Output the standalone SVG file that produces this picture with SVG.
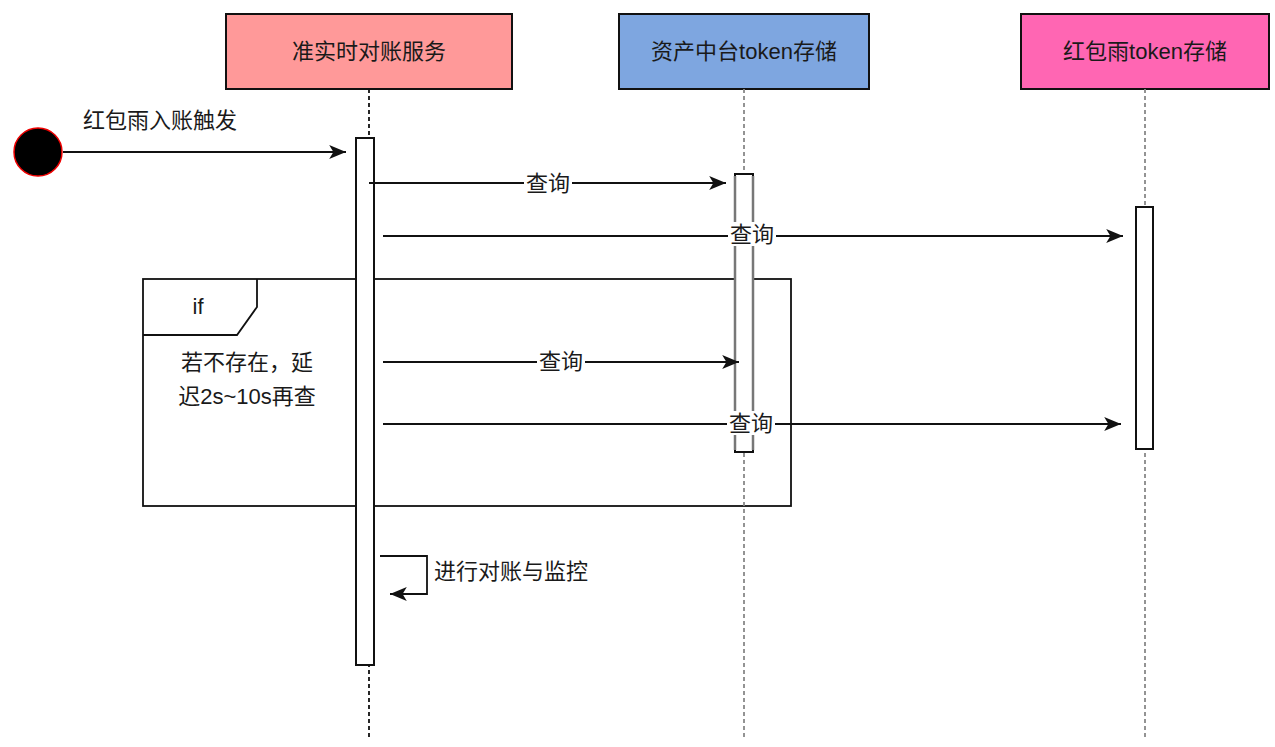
<svg xmlns="http://www.w3.org/2000/svg" width="1275" height="747" viewBox="0 0 1275 747">
<defs>
<style>
text{font-family:"Liberation Sans","Noto Sans CJK SC",sans-serif;font-size:22px;fill:#1a1a1a;}
.hdr{stroke:#111;stroke-width:2;}
.life{fill:none;stroke-width:1.8;stroke-dasharray:4 3;}
.act{fill:#fff;stroke:#111;stroke-width:2;}
.msg{fill:none;stroke:#111;stroke-width:1.8;}
.lbl{fill:#fff;}
</style>
<marker id="arr" viewBox="0 0 12 10" refX="12" refY="5" markerWidth="17" markerHeight="14" markerUnits="userSpaceOnUse" orient="auto">
<path d="M0,0 L12,5 L0,10 L3,5 z" fill="#111"/>
</marker>
</defs>
<rect width="1275" height="747" fill="#fff"/>

<g id="frame-if">
<rect x="143" y="279" width="648" height="227" fill="none" stroke="#111" stroke-width="1.8"/>
<path d="M143,335 L237,335 L257,307 L257,279" fill="none" stroke="#111" stroke-width="1.8"/>
<text x="198" y="306" text-anchor="middle" dominant-baseline="central" font-size="20">if</text>
<text x="247" y="362" text-anchor="middle" dominant-baseline="central">若不存在，延</text>
<text x="247" y="396" text-anchor="middle" dominant-baseline="central">迟2s~10s再查</text>
</g>

<g id="node-service">
<rect class="hdr" x="226" y="14" width="286" height="75" fill="#FF9999"/>
<text x="369" y="51" text-anchor="middle" dominant-baseline="central">准实时对账服务</text>
<line class="life" x1="369" y1="89" x2="369" y2="740" stroke="#111"/>
<rect class="act" x="356" y="138" width="18" height="527"/>
</g>

<g id="node-asset">
<rect class="hdr" x="619" y="14" width="250" height="75" fill="#7EA6E0"/>
<text x="744" y="51" text-anchor="middle" dominant-baseline="central">资产中台token存储</text>
<line class="life" x1="744" y1="89" x2="744" y2="740" stroke="#888"/>
<rect class="act" x="735" y="174" width="18" height="278"/>
<line x1="735" y1="176" x2="735" y2="450" stroke="#777" stroke-width="2.5"/>
<line x1="753" y1="176" x2="753" y2="450" stroke="#777" stroke-width="2.5"/>
</g>

<g id="node-redpacket">
<rect class="hdr" x="1021" y="14" width="248" height="75" fill="#FF66B3"/>
<text x="1145" y="51" text-anchor="middle" dominant-baseline="central">红包雨token存储</text>
<line class="life" x1="1145" y1="89" x2="1145" y2="740" stroke="#888"/>
<rect class="act" x="1136" y="207" width="17" height="242"/>
</g>

<g id="node-start">
<circle cx="38" cy="152" r="24" fill="#000" stroke="#e00" stroke-width="1.5"/>
</g>

<g id="connectors">
<line class="msg" x1="63" y1="152" x2="346" y2="152" marker-end="url(#arr)"/>
<text x="160" y="120" text-anchor="middle" dominant-baseline="central">红包雨入账触发</text>

<line class="msg" x1="369" y1="183" x2="726" y2="183" marker-end="url(#arr)"/>
<rect class="lbl" x="524" y="171" width="48" height="24"/>
<text x="548" y="183" text-anchor="middle" dominant-baseline="central">查询</text>

<line class="msg" x1="383" y1="236" x2="1123" y2="236" marker-end="url(#arr)"/>
<rect class="lbl" x="728" y="222" width="48" height="24"/>
<text x="752" y="234" text-anchor="middle" dominant-baseline="central">查询</text>

<line class="msg" x1="383" y1="362" x2="739" y2="362" marker-end="url(#arr)"/>
<rect class="lbl" x="537" y="349" width="48" height="24"/>
<text x="561" y="361" text-anchor="middle" dominant-baseline="central">查询</text>

<line class="msg" x1="383" y1="424" x2="1121" y2="424" marker-end="url(#arr)"/>
<rect class="lbl" x="727" y="411" width="48" height="24"/>
<text x="751" y="423" text-anchor="middle" dominant-baseline="central">查询</text>

<path class="msg" d="M380,556 L427,556 L427,594 L390,594" marker-end="url(#arr)"/>
<text x="434" y="571" dominant-baseline="central">进行对账与监控</text>
</g>
</svg>
